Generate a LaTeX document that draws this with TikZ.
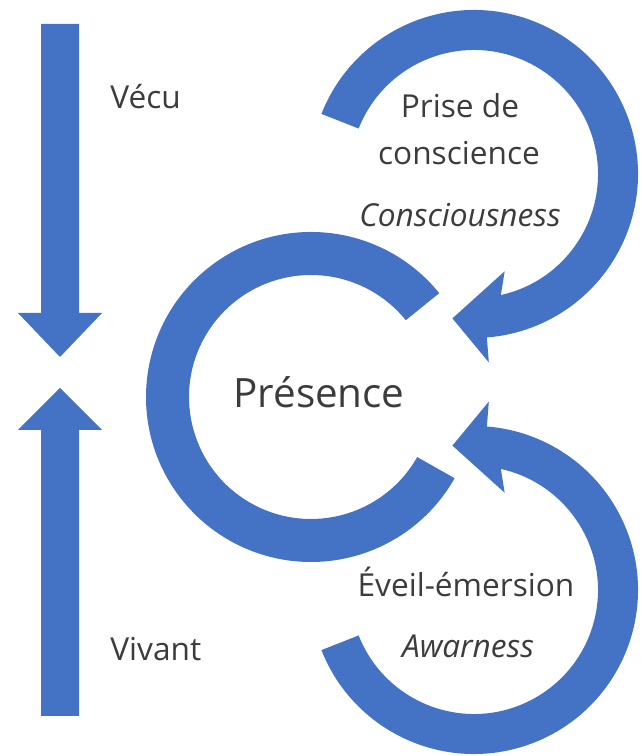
\documentclass[tikz,border=0pt]{standalone}
\usepackage{fontspec}
\setmainfont{Open Sans}
\usepackage{xcolor}
\usepackage{tikz}
\definecolor{loopblue}{HTML}{4472C4}
\definecolor{inkgray}{HTML}{3C3C3C}

\begin{document}
\begin{tikzpicture}[
    x=0.02cm, y=0.02cm,
    blk/.style={fill=loopblue, draw=none},
    lbl/.style={text=inkgray, inner sep=0pt, font=\fontsize{18}{22}\selectfont},
    lblit/.style={lbl, font=\fontsize{18}{22}\selectfont\itshape},
    big/.style={lbl, font=\fontsize{23}{28}\selectfont}
]
\useasboundingbox (0,0) rectangle (642,756);

% Vertical arrows on the left
\fill[blk] (41,732) -- (79,732) -- (79,443) -- (102,443) -- (60,399)
    -- (18,443) -- (41,443) -- cycle;
\fill[blk] (41,40) -- (79,40) -- (79,326) -- (102,326) -- (60,368)
    -- (18,326) -- (41,326) -- cycle;
\node[lbl, anchor=west] (vecu) at (110,659) {Vécu};
\node[lbl, anchor=west] (vivant) at (110,107) {Vivant};

% Open ring in the middle
\fill[blk, shift={(311,359)}] (39:165) arc[start angle=39, end angle=330.5, radius=165]
    -- (330.5:122) arc[start angle=330.5, end angle=39, radius=122] -- cycle;
\node[big] (presence) at (319,364) {Présence};

% Upper loop, head pointing back to the ring
\fill[blk, shift={(474,582)}] (158.5:164) arc[start angle=158.5, end angle=-85.5, radius=164]
    -- (-85.5:189) -- (-98.5:146) -- (-72.5:102) -- (-77.5:124)
    arc[start angle=-77.5, end angle=158.5, radius=124] -- cycle;
\node[lbl] (prise) at (460,650) {Prise de};
\node[lbl] (consc) at (459,603) {conscience};
\node[lblit] (consc-en) at (460,541) {Consciousness};

% Lower loop
\fill[blk, shift={(474,166)}] (-158.5:164) arc[start angle=-158.5, end angle=85.5, radius=164]
    -- (85.5:189) -- (98.5:146) -- (72.5:102) -- (77.5:124)
    arc[start angle=77.5, end angle=-158.5, radius=124] -- cycle;
\node[lbl] (eveil) at (466,174) {Éveil-émersion};
\node[lblit] (awar) at (468,110) {Awarness};

\end{tikzpicture}
\end{document}
